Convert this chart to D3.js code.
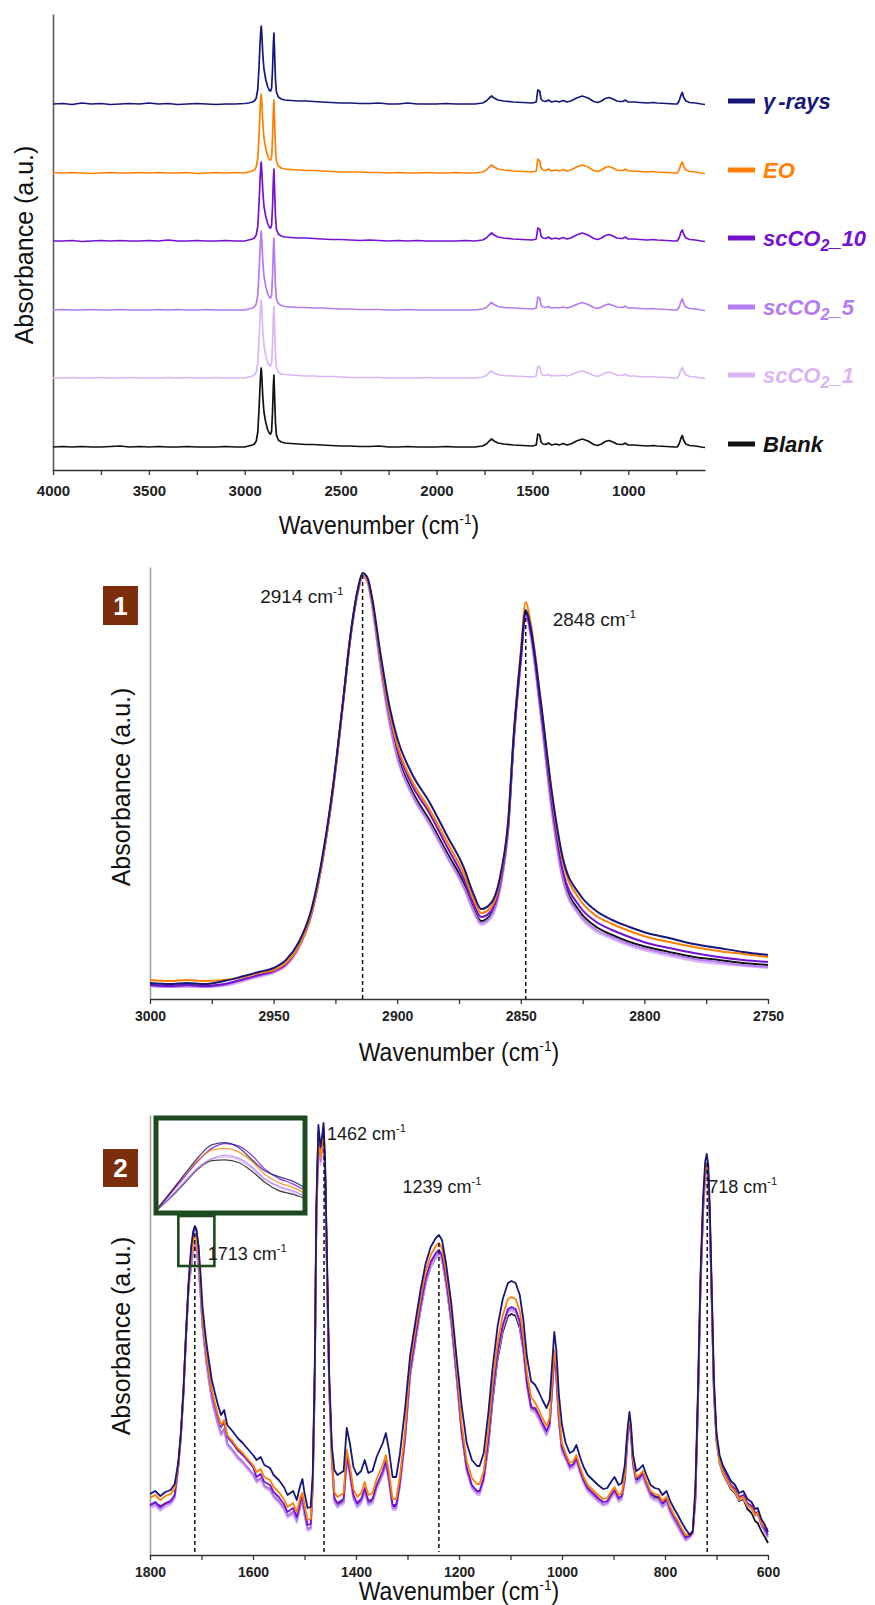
<!DOCTYPE html>
<html><head><meta charset="utf-8">
<script src="https://cdn.jsdelivr.net/npm/d3@7"></script>
<style>
body{margin:0;background:#fff}
svg{display:block}
text{font-family:"Liberation Sans",Arial,Helvetica,sans-serif}
</style>
</head><body>
<svg id="c" width="875" height="1605"></svg>
<script>
// ---------------- DATA ----------------
const seriesNames  = ["γ-rays","EO","scCO2_10","scCO2_5","scCO2_1","Blank"];
const seriesColors = ["#17177a","#ff8000","#7412d0","#b47cf0","#dab6f6","#111111"];
const stackOffset  = [343,274,206,137,69,0];   // vertical offsets of stacked spectra (top panel)

// Top panel: full spectra 4000-600 cm-1
const topWn = [4000,3950,3900,3850,3800,3750,3700,3650,3600,3550,
3500,3450,3400,3350,3300,3250,3200,3150,3100,3050,
3000,2980,2960,2950,2940,2932,2925,2920,2916,2914,
2911,2906,2900,2890,2880,2870,2865,2860,2855,2851,
2848,2845,2840,2835,2825,2810,2790,2760,2720,2680,
2640,2600,2550,2500,2450,2400,2350,2300,2250,2200,
2150,2100,2050,2000,1950,1900,1850,1800,1760,1740,
1725,1713,1700,1680,1650,1600,1550,1500,1480,1472,
1462,1455,1445,1430,1417,1400,1378,1360,1340,1320,
1300,1270,1240,1210,1180,1160,1140,1120,1100,1080,
1060,1040,1030,1020,1015,1010,1000,970,940,900,
870,850,800,760,745,735,725,718,712,700,
680,650,620,600];
const topGamma = [0,0.5,-0.5,1,0,0.5,-0.5,0,0.5,0,
1,0,0.5,-0.5,0,0.5,0,-0.5,0,0,
0.5,1,2,3,6,15,40,62,75,78,
70,50,35,24,17,13,13,16,35,60,
71,55,25,12,7,5,4,3.5,3,3,
2.5,2,1.5,1,1,0.5,0.5,1,0,0,
1,0,0,0,0.5,0,0,0,1,3,
6,8,6,4,3,2,1.5,1,2,14,
13,5,3,2.5,4,2,3,2,3.5,2,
3,6,8,6,2.5,1.5,3,5.5,6.5,5,
3,2.5,2.5,3.5,4,3,2,2,1.5,1,
1.5,1,0.5,0,0,3,9,11.5,7,3,
1.5,1,0,-0.5];
const topEO = [0.5,0,0.5,0,-0.5,0,0.5,0,0,0.5,
0,0.5,0,0,0.5,-0.5,0,0.5,0,0.5,
0,1,2,3,6,15,40,63,76,79,
71,51,35,24,17,13,13,16,36,62,
73,56,25,12,7,5,4,3.5,3,2.5,
2.5,2,1.5,1,1,1,0.5,0.5,0,0.5,
0,0,0.5,0,0,0.5,0,0,1,3,
6,8,6,4,3,2,1.5,1,2,14,
12,5,3,2.5,4,2,3,2,3.5,2,
3,6,8,6,2.5,1.5,3,5.5,6.5,5,
3,2.5,2.5,3.5,4,3,2,2,1.5,1,
1.5,1,0.5,0,0,3,9,11,7,3,
1.5,1,0,-0.5];
const topSc10 = [0,0,0.5,-0.5,0,0.5,0,0.5,0,0,
0.5,0,1,0,0,0.5,0,0,0.5,0,
0,1,2,3,6,15,40,62,76,79,
70,50,35,24,17,13,13,16,35,61,
72,55,25,12,7,5,4,3.5,3,3,
2.5,2,1.5,1.5,1,0.5,1,0.5,0,0.5,
0,0.5,0,0,0,0,0.5,0,1,3,
6,8,6,4,3,2,1.5,1,2,13,
12,5,3,2.5,4,2,3,2,3.5,2,
3,6,8,6,2.5,1.5,3,5.5,6.5,5,
3,2.5,2.5,3.5,4,3,2,2,1.5,1,
1.5,1,0.5,0,0,3,9,11,7,3,
1.5,1,0,-0.5];
const topSc5 = [0,0.5,0,0,0.5,0,0,0.5,0,0,
0,0.5,0,0.5,0,0,0.5,0,0,0,
0,1,2,3,6,15,40,62,76,79,
70,49,34,23,16,12,12,15,35,61,
72,55,24,11,6.5,4.5,3.5,3,2.5,2.5,
2,2,1.5,1,1,0.5,0.5,0.5,0,0,
0.5,0,0,0,0,0,0,0,1,2.5,
5.5,7.5,5.5,3.5,2.5,2,1.5,1,2,13,
12,5,3,2.5,3.5,2,2.5,2,3,2,
3,5.5,7.5,5.5,2.5,1.5,3,5,6,4.5,
3,2.5,2.5,3.5,4,3,2,2,1.5,1,
1.5,1,0.5,0,0,3,8.5,11,7,3,
1.5,1,0,-0.5];
const topSc1 = [0,0,0.5,0,0,0.5,0,0,0.5,0,
0,0,0.5,0,0.5,0,0,0.5,0,0,
0,1,2,3,6,15,40,62,75,78,
69,48,33,22,15,12,12,15,35,61,
72,54,23,11,6,4,3.5,3,2.5,2,
2,1.5,1.5,1,0.5,0.5,0.5,0.5,0,0,
0,0,0.5,0,0,0,0,0,1,2.5,
5.5,7,5,3.5,2.5,2,1.5,1,2,12,
11,5,3,2.5,3.5,2,2.5,2,3,2,
3,5.5,7,5,2.5,1.5,3,5,6,4.5,
3,2.5,2.5,3.5,4,3,2,2,1.5,1,
1.5,1,0.5,0,0,3,8.5,10.5,7,3,
1.5,1,0,-0.5];
const topBlank = [0,0.5,0,0.5,0,0,0.5,1,0,0.5,
0,0.5,0,0,0.5,0,0,0,0.5,0,
0,1,2,3,6,15,40,63,76,79,
70,50,35,24,17,13,13,16,36,61,
72,55,25,12,7,5,4,3.5,3,2.5,
2.5,2,1.5,1,1,0.5,0.5,1,0,0,
0.5,0,0,0,0.5,0,0,0,1,3,
6,8,6,4,3,2,1.5,1,2,13,
12,5,3,2.5,4,2,3,2,3.5,2,
3,6,8,6,2.5,1.5,3,5.5,6.5,5,
3,2.5,2.5,3.5,4,3,2,2,1.5,1,
1.5,1,0.5,0,0,3,9,11.5,7,3,
1.5,1,0,-0.5];
const topTicks = [4000,3500,3000,2500,2000,1500,1000];
const topMinor = [3750,3250,2750,2250,1750,1250,750];

// Panel 1: 3000-2750 cm-1
const p1Wn = [3000,2992,2985,2978,2970,2962,2956,2950,2945,2940,
2935,2930,2926,2922,2919,2916,2914,2912,2910,2907,
2903,2900,2894,2887,2880,2873,2869,2866,2862,2858,
2855,2853,2850,2848,2846,2842,2837,2833,2826,2820,
2813,2806,2799,2790,2780,2770,2760,2750];
const p1Gamma = [16,15,16,15,18,23,27,31,39,56,
87,146,212,296,362,409,426,421,399,349,
291,261,225,197,164,131,104,90,96,127,
181,259,344,389,371,299,199,141,104,89,
79,72,66,61,55,51,47,44];
const p1EO = [19,18,19,18,19,22,26,29,36,52,
83,142,208,293,360,407,424,419,396,344,
285,254,218,190,158,125,99,86,92,124,
180,260,348,397,376,300,196,137,99,84,
75,68,62,57,52,48,45,42];
const p1Sc10 = [14,13,14,13,15,20,24,28,35,52,
83,143,210,295,361,408,425,420,396,343,
283,251,214,186,153,120,95,82,88,120,
176,255,340,386,368,292,188,128,92,78,
69,62,56,51,46,42,39,37];
const p1Sc5 = [13,12,13,12,14,19,23,27,34,51,
82,142,209,294,360,406,423,417,392,337,
275,242,205,176,144,112,88,76,83,116,
173,253,338,385,364,286,180,120,84,70,
62,55,50,45,40,37,34,32];
const p1Sc1 = [13,12,12,12,13,18,22,26,33,50,
81,141,208,293,359,405,422,416,390,335,
273,240,203,174,142,110,86,74,81,114,
171,251,336,383,362,284,178,118,82,68,
60,53,48,43,38,35,33,31];
const p1Blank = [14,13,14,13,14,19,23,27,34,51,
82,142,209,294,360,406,423,418,393,339,
278,245,208,179,147,115,90,78,85,118,
174,254,339,386,366,288,183,123,87,73,
64,57,52,47,42,39,36,34];
const p1Ticks = [3000,2950,2900,2850,2800,2750];
const p1Minor = [2975,2925,2875,2825,2775];
const p1Marks = [2914,2848];
const p1MarkTop = [424,388];
const p1MarkLabels = ["2914","2848"];

// Panel 2: 1800-600 cm-1
const p2Wn = [1800,1790,1780,1770,1760,1752,
1745,1740,1735,1730,1725,
1720,1716,1713,1710,1706,
1702,1698,1694,1690,1685,1680,1674,1668,1662,1656,1650,1640,1630,1620,1610,1600,
1593,1585,1578,1567,1560,1550,1540,1533,1522,1515,1508,1504,1500,1494,1488,
1484,1480,1477,1473,1469,1466,1463,1460,1456,1452,1447,
1442,1436,1430,1424,1418,1412,1405,1398,1390,1383,1376,1368,1360,1348,1342,1336,1329,1322,1315,1305,
1295,1285,1275,1265,1255,1245,1239,1233,1225,1215,1205,
1195,1185,1175,1165,1160,1152,
1143,1135,1125,1115,1105,1098,1090,1082,1075,1068,1060,
1052,1045,1038,1030,1024,1018,1015,1011,1006,1000,
993,985,978,972,965,958,950,940,930,920,912,905,898,890,884,878,
873,869,866,862,
856,850,843,836,828,820,812,805,797,790,782,775,768,760,
752,746,
741,736,731,726,722,719,716,713,709,705,
700,694,688,680,672,664,656,648,640,632,625,620,613,606,600];
const p2Gamma = [61,64,59,63,65,71,
93,123,166,223,273,
308,324,329,326,310,
282,248,228,210,192,175,162,150,140,145,130,124,117,112,106,100,
95,98,90,87,80,75,68,60,64,55,70,76,62,47,48,
80,190,350,430,408,418,432,395,290,180,110,
85,80,82,84,127,112,88,80,84,95,82,84,98,112,122,105,78,78,100,145,
199,232,264,291,308,317,320,315,291,252,199,
150,112,95,89,89,102,
142,186,229,256,272,274,272,260,235,198,174,
170,163,155,147,155,200,223,205,160,130,
112,102,104,110,98,88,80,75,70,66,67,73,78,70,72,90,
125,143,130,100,
84,86,90,80,70,67,66,60,64,54,46,40,33,26,
20,24,
68,165,282,358,393,401,390,347,262,176,
122,100,90,82,74,70,62,64,56,53,46,47,36,30,23];
const p2EO = [57,60,55,59,61,67,
90,120,163,220,270,
298,314,319,316,300,
272,238,218,200,182,165,152,140,130,135,120,114,107,102,96,90,
83,86,78,75,68,63,56,48,52,43,58,62,50,35,36,
70,176,326,420,398,408,422,385,274,168,98,
63,58,60,62,105,90,66,58,62,73,60,62,76,90,100,83,56,56,78,123,
191,224,256,283,300,309,312,307,283,244,191,
132,94,77,71,71,84,
126,170,213,240,256,258,256,244,219,182,158,
152,145,137,129,137,182,205,187,142,112,
102,92,94,100,88,78,70,65,60,56,57,63,68,60,62,80,
120,138,125,95,
78,80,84,74,64,61,60,54,58,48,40,34,27,20,
20,24,
61,158,275,350,384,392,382,340,255,169,
116,94,84,76,68,64,56,58,50,47,40,42,32,28,26];
const p2Sc10 = [50,53,48,52,54,60,
91,121,164,221,271,
306,322,327,325,309,
270,236,216,198,180,163,150,138,128,133,118,112,105,100,94,88,
78,81,73,70,63,58,51,43,47,38,53,59,45,30,31,
74,184,344,424,402,412,426,389,284,174,104,
57,52,54,56,99,84,60,52,56,67,54,56,70,84,94,77,50,50,72,117,
184,217,249,276,293,302,305,300,276,237,184,
125,87,70,64,64,77,
116,160,203,230,246,248,246,234,209,172,148,
147,140,132,124,132,177,200,182,137,107,
99,89,91,97,85,75,67,62,57,53,54,60,65,57,59,77,
117,135,122,92,
76,78,82,72,62,59,58,52,56,46,38,32,25,18,
19,23,
58,155,272,348,383,391,380,337,252,166,
118,96,86,78,70,66,58,60,52,49,42,43,32,26,20];
const p2Sc5 = [48,51,46,50,52,58,
88,118,161,218,268,
290,306,311,308,292,
263,229,209,191,173,156,143,131,121,126,111,105,98,93,87,81,
74,77,69,66,59,54,47,39,43,34,49,55,41,26,27,
66,176,336,416,394,404,418,381,276,166,96,
54,49,51,53,96,81,57,49,53,64,51,53,67,81,91,74,47,47,69,114,
181,214,246,273,290,299,302,297,273,234,181,
123,85,68,62,62,75,
114,158,201,228,244,246,244,232,207,170,146,
144,137,129,121,129,174,197,179,134,104,
97,87,89,95,83,73,65,60,55,51,52,58,63,55,57,75,
115,133,120,90,
73,75,79,69,59,56,55,49,53,43,35,29,22,15,
18,22,
54,151,268,344,379,387,376,333,248,162,
116,94,84,76,68,64,56,58,50,47,40,41,30,24,18];
const p2Sc1 = [46,49,44,48,50,56,
87,117,160,217,267,
289,305,310,307,291,
261,227,207,189,171,154,141,129,119,124,109,103,96,91,85,79,
72,75,67,64,57,52,45,37,41,32,47,53,39,24,25,
62,172,332,412,390,400,414,377,272,162,92,
52,47,49,51,94,79,55,47,51,62,49,51,65,79,89,72,45,45,67,112,
179,212,244,271,288,297,300,295,271,232,179,
121,83,66,60,60,73,
112,156,199,226,242,244,242,230,205,168,144,
142,135,127,119,127,172,195,177,132,102,
95,85,87,93,81,71,63,58,53,49,50,56,61,53,55,73,
113,131,118,88,
71,73,77,67,57,54,53,47,51,41,33,27,20,14,
17,21,
52,149,266,342,377,385,374,331,246,160,
115,93,83,75,67,63,55,57,49,46,39,40,29,23,17];
const p2Blank = [50,52,49,51,54,59,
89,119,162,219,269,
288,304,309,306,290,
263,229,209,191,173,156,143,131,121,126,111,105,98,93,87,81,
74,77,69,66,59,54,47,39,43,34,49,55,41,26,27,
68,178,338,418,396,406,420,383,278,168,98,
55,50,52,54,97,82,58,50,54,65,52,54,68,82,92,75,48,48,70,115,
179,212,244,271,288,297,300,295,271,232,179,
123,85,68,62,62,75,
109,153,196,223,239,241,239,227,204,170,148,
144,137,129,121,129,174,197,179,134,104,
97,87,89,95,83,73,65,60,55,51,52,58,63,55,57,75,
115,133,120,90,
75,77,81,71,61,58,57,51,55,45,37,31,24,17,
20,24,
56,153,270,346,381,389,378,335,250,164,
114,92,82,74,66,62,54,56,46,42,34,32,24,18,12];
const p2Ticks = [1800,1600,1400,1200,1000,800,600];
const p2Minor = [1700,1500,1300,1100,900,700];
const p2Marks = [1713,1462,1239,718];
const p2MarkTop = [322,420,312,392];
const p2MarkLabels = ["1713","1462","1239","718"];
const zoomRegionWn = [1745,1675];
const zoomRegionVal = [289,339];

// Inset: magnified 1713 cm-1 band
const insetWn = [1740,1735,1730,1725,1720,1715,1710,1705,1700,1695,1690,1686];
const insetGamma = [0.02,0.21,0.41,0.60,0.74,0.765,0.71,0.57,0.44,0.38,0.33,0.265];
const insetEO    = [0.03,0.22,0.40,0.57,0.68,0.70,0.66,0.55,0.40,0.31,0.26,0.20];
const insetSc10  = [0.02,0.20,0.38,0.56,0.70,0.755,0.73,0.62,0.46,0.36,0.30,0.235];
const insetSc5   = [0.01,0.16,0.32,0.48,0.58,0.62,0.59,0.49,0.35,0.27,0.22,0.17];
const insetSc1   = [0.02,0.17,0.33,0.49,0.58,0.60,0.57,0.47,0.34,0.26,0.20,0.15];
const insetBlank = [0.01,0.15,0.31,0.47,0.56,0.57,0.54,0.44,0.31,0.22,0.18,0.14];

const topSeries   = [topGamma,topEO,topSc10,topSc5,topSc1,topBlank];
const p1Series    = [p1Gamma,p1EO,p1Sc10,p1Sc5,p1Sc1,p1Blank];
const p2Series    = [p2Gamma,p2EO,p2Sc10,p2Sc5,p2Sc1,p2Blank];
const insetSeries = [insetGamma,insetEO,insetSc10,insetSc5,insetSc1,insetBlank];
const drawOrder = [5,4,3,2,1,0];

// ---------------- DRAWING ----------------
const svg = d3.select("#c");
svg.append("rect").attr("width",875).attr("height",1605).attr("fill","#fff");

function xAxis(scale, y, majors, minors, fs, pad){
  const g = svg.append("g").attr("transform",`translate(0,${y})`);
  g.call(d3.axisBottom(scale).tickValues(majors).tickSize(5).tickSizeOuter(0)
    .tickPadding(pad).tickFormat(d3.format("d")));
  const gm = svg.append("g").attr("transform",`translate(0,${y})`);
  gm.call(d3.axisBottom(scale).tickValues(minors).tickSize(5).tickFormat(""));
  gm.select(".domain").remove();
  [g,gm].forEach(a=>{
    a.selectAll(".tick line").attr("stroke","#333").attr("stroke-width",1.3);
  });
  g.select(".domain").attr("stroke","#333").attr("stroke-width",1.6);
  g.selectAll(".tick text").attr("font-size",fs).attr("font-weight","bold").attr("fill","#222")
    .attr("font-family",'"Liberation Sans",Arial,sans-serif');
}
function yAxis(scale, x, color){
  const g = svg.append("g").attr("transform",`translate(${x},0)`);
  g.call(d3.axisLeft(scale).tickValues([]).tickSizeOuter(0));
  g.select(".domain").attr("stroke",color).attr("stroke-width",1.5);
}
function xTitle(cx, y){
  const t = svg.append("text").attr("transform",`translate(${cx},${y}) scale(0.92,1)`)
    .attr("text-anchor","middle").attr("font-size",25).attr("fill","#111");
  t.append("tspan").text("Wavenumber (cm");
  t.append("tspan").attr("font-size",15).attr("dy",-10).text("-1");
  t.append("tspan").attr("dy",10).text(")");
}
function yTitle(x, cy){
  svg.append("text").attr("transform",`translate(${x},${cy}) rotate(-90)`)
    .attr("text-anchor","middle").attr("font-size",25).attr("fill","#111")
    .text("Absorbance (a.u.)");
}
function cmLabel(x, y, num, anchor, fs){
  const t = svg.append("text").attr("x",x).attr("y",y).attr("text-anchor",anchor||"start")
    .attr("font-size",fs).attr("fill","#1a1a1a");
  t.append("tspan").text(num+" cm");
  t.append("tspan").attr("font-size",fs*0.62).attr("dy",-fs*0.42).text("-1");
}
function panelBadge(x, y, w, h, label){
  svg.append("rect").attr("x",x).attr("y",y).attr("width",w).attr("height",h).attr("fill","#7b2d0c");
  svg.append("text").attr("x",x+w/2).attr("y",y+h/2+9).attr("text-anchor","middle")
    .attr("font-size",26).attr("font-weight","bold").attr("fill","#fff").text(label);
}

// ---- Top panel ----
const xT = d3.scaleLinear().domain([4000,600]).range([53,705]);
const yT = d3.scaleLinear().domain([-23,433]).range([470,14]);
yAxis(yT, 53, "#555");
xAxis(xT, 470, topTicks, topMinor, 15, 10);
drawOrder.forEach(i=>{
  const line = d3.line().x((d,k)=>xT(topWn[k])).y(d=>yT(d+stackOffset[i]));
  svg.append("path").datum(topSeries[i]).attr("d",line).attr("fill","none")
    .attr("stroke",seriesColors[i]).attr("stroke-width",1.7).attr("stroke-linejoin","round");
});
// legend
seriesNames.forEach((name,i)=>{
  const ly = yT(stackOffset[i]+3);
  svg.append("line").attr("x1",728).attr("x2",755).attr("y1",ly).attr("y2",ly)
    .attr("stroke",seriesColors[i]).attr("stroke-width",5);
  const t = svg.append("text").attr("x",763).attr("y",ly+8).attr("font-size",22)
    .attr("font-weight","bold").attr("font-style","italic").attr("fill",seriesColors[i]);
  if(name.startsWith("scCO2")){
    t.append("tspan").text("scCO");
    t.append("tspan").attr("font-size",16).attr("dy",5).text("2");
    t.append("tspan").attr("dy",-5).text(name.slice(5));
  } else if(name.startsWith("γ")){
    t.append("tspan").text("γ");
    t.append("tspan").attr("dx",3).text("-rays");
  } else t.text(name);
});
yTitle(33, 245);
xTitle(379, 534);

// ---- Panel 1 ----
const x1 = d3.scaleLinear().domain([3000,2750]).range([150,768]);
const y1 = d3.scaleLinear().domain([0,432]).range([999,567]);
yAxis(y1, 150, "#9a9a9a");
xAxis(x1, 999, p1Ticks, p1Minor, 14, 7);
drawOrder.forEach(i=>{
  const line = d3.line().x((d,k)=>x1(p1Wn[k])).y(d=>y1(d)).curve(d3.curveMonotoneX);
  svg.append("path").datum(p1Series[i]).attr("d",line).attr("fill","none")
    .attr("stroke",seriesColors[i]).attr("stroke-width",2).attr("stroke-linejoin","round");
});
p1Marks.forEach((w,i)=>{
  svg.append("line").attr("x1",x1(w)).attr("x2",x1(w)).attr("y1",y1(p1MarkTop[i])).attr("y2",y1(0))
    .attr("stroke","#111").attr("stroke-width",1.5).attr("stroke-dasharray","4,3");
});
cmLabel(x1(p1Marks[0])-19, y1(396), p1MarkLabels[0], "end", 19);
cmLabel(x1(p1Marks[1])+27, y1(373), p1MarkLabels[1], "start", 19);
panelBadge(103, 586, 35, 39, "1");
yTitle(130, 787);
xTitle(459, 1061);

// ---- Panel 2 ----
const x2 = d3.scaleLinear().domain([1800,600]).range([150,768]);
const y2 = d3.scaleLinear().domain([0,440]).range([1555,1115]);
yAxis(y2, 150, "#9a9a9a");
xAxis(x2, 1555, p2Ticks, p2Minor, 14, 7);
drawOrder.forEach(i=>{
  const line = d3.line().x((d,k)=>x2(p2Wn[k])).y(d=>y2(d));
  svg.append("path").datum(p2Series[i]).attr("d",line).attr("fill","none")
    .attr("stroke",seriesColors[i]).attr("stroke-width",1.8).attr("stroke-linejoin","round");
});
p2Marks.forEach((w,i)=>{
  svg.append("line").attr("x1",x2(w)).attr("x2",x2(w)).attr("y1",y2(p2MarkTop[i])).attr("y2",y2(3))
    .attr("stroke","#111").attr("stroke-width",1.5).attr("stroke-dasharray","4,3");
});
// zoom region box
svg.append("rect").attr("x",x2(zoomRegionWn[0])).attr("y",y2(zoomRegionVal[1]))
  .attr("width",x2(zoomRegionWn[1])-x2(zoomRegionWn[0]))
  .attr("height",y2(zoomRegionVal[0])-y2(zoomRegionVal[1]))
  .attr("fill","none").attr("stroke","#1e4a20").attr("stroke-width",2.6);
// inset
const ix0=156, iy0=1118, iw=149, ih=95;
svg.append("rect").attr("x",ix0).attr("y",iy0).attr("width",iw).attr("height",ih).attr("fill","#fff");
svg.append("clipPath").attr("id","insetClip").append("rect")
  .attr("x",ix0+2).attr("y",iy0+2).attr("width",iw-4).attr("height",ih-4);
const xi = d3.scaleLinear().domain([1740,1686]).range([158,303]);
const yi = d3.scaleLinear().domain([0,1]).range([1210,1122]);
const gi = svg.append("g").attr("clip-path","url(#insetClip)");
drawOrder.forEach(i=>{
  const line = d3.line().x((d,k)=>xi(insetWn[k])).y(d=>yi(d)).curve(d3.curveMonotoneX);
  gi.append("path").datum(insetSeries[i]).attr("d",line).attr("fill","none")
    .attr("stroke",seriesColors[i]).attr("stroke-width",1.3).attr("stroke-opacity",0.8);
});
svg.append("rect").attr("x",ix0).attr("y",iy0).attr("width",iw).attr("height",ih)
  .attr("fill","none").attr("stroke","#1e4a20").attr("stroke-width",5);

cmLabel(x2(1462)+3, 1140, "1462", "start", 18);
cmLabel(x2(1239)+3, 1193, "1239", "middle", 18);
cmLabel(x2(718)+1, 1193, "718", "start", 18);
cmLabel(x2(1713)+13, 1260, "1713", "start", 18);
panelBadge(103, 1149, 35, 38, "2");
yTitle(130, 1336);
xTitle(459, 1600);
</script>
</body></html>
